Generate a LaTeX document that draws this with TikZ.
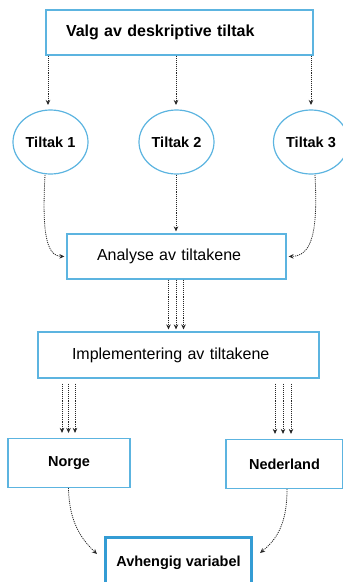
\documentclass[tikz,border=0pt]{standalone}
\usepackage{fontspec}
\setmainfont{Liberation Sans}
\usetikzlibrary{arrows.meta,shapes.geometric}

\definecolor{boxblue}{RGB}{92,180,224}
\definecolor{boxbluedark}{RGB}{52,156,212}

\tikzset{
  box/.style={draw=boxblue, line width=1.2pt, rectangle, inner ysep=0pt,
              minimum height=#1},
  box/.default=45pt,
  oval/.style={draw=boxblue, line width=1.2pt, ellipse, inner sep=0pt,
               minimum width=75pt, minimum height=64pt,
               font=\fontsize{14.5}{17}\selectfont\bfseries},
  boldlabel/.style={font=\fontsize{14.5}{17}\selectfont\bfseries},
  plainlabel/.style={font=\fontsize{16}{19}\selectfont},
  flow/.style={draw=black!85, line width=0.8pt, dash pattern=on 1.1pt off 1pt,
               -{Stealth[length=5pt,width=4.5pt]}},
}

\begin{document}
\begin{tikzpicture}[x=1pt, y=-1pt]
  \useasboundingbox (0,0) rectangle (343,582);
  \clip (0,0) rectangle (343,582);

  % top: choice of measures
  \node[box, text width=227pt, inner xsep=20pt, align=left,
        font=\fontsize{16}{19}\selectfont\bfseries]
        (valg) at (179.5,32.5) {Valg av deskriptive tiltak};

  % the three measures
  \node[oval] (t1) at (50.5,142) {Tiltak 1};
  \node[oval] (t2) at (176.5,142) {Tiltak 2};
  \node[oval] (t3) at (311,142) {Tiltak 3};

  % analysis and implementation
  \node[box, plainlabel, text width=159pt, inner xsep=30pt, align=left]
        (analyse) at (176.5,256.5) {Analyse av tiltakene};
  \node[box=46pt, plainlabel, text width=213pt, inner xsep=34pt, align=left]
        (impl) at (178.5,355) {Implementering av tiltakene};

  % countries
  \node[box=49pt, boldlabel, minimum width=122pt] (norge) at (69,463) {Norge};
  \node[box=49pt, boldlabel, minimum width=117pt] (ned) at (284.5,464) {Nederland};

  % outcome
  \node[draw=boxbluedark, line width=3pt, rectangle, minimum width=146pt,
        minimum height=50pt, boldlabel] (avh) at (178.5,562.5) {Avhengig variabel};

  % top box to each measure
  \draw[flow, shorten >=5pt] (valg.south -| 48,0) -- (48,110);
  \draw[flow, shorten >=5pt] (valg.south -| 176,0) -- (176,110);
  \draw[flow, shorten >=5pt] (valg.south -| 311,0) -- (311,110);

  % measures into the analysis
  \draw[flow, shorten >=2pt] (t2.south -| 176,0) -- (analyse.north -| 176,0);
  \draw[flow, shorten >=2pt] (45,175) .. controls (42,232) and (46,256) .. (analyse.west);
  \draw[flow, shorten >=2pt] (315,175) .. controls (318,232) and (312,256) .. (analyse.east);

  % analysis to implementation
  \foreach \x in {168.5,176,183.5}
    \draw[flow, shorten >=2pt] (analyse.south -| \x,0) -- (impl.north -| \x,0);

  % implementation to each country
  \foreach \x in {62,68.5,75}
    \draw[flow, shorten >=5pt, shorten <=5pt] (impl.south -| \x,0) -- (norge.north -| \x,0);
  \foreach \x in {275,283,291}
    \draw[flow, shorten >=5pt, shorten <=5pt] (impl.south -| \x,0) -- (ned.north -| \x,0);

  % countries to the outcome
  \draw[flow] ([xshift=-0.5pt]norge.south) .. controls (69,520) and (80,538) .. (97,554);
  \draw[flow] ([xshift=2.5pt]ned.south) .. controls (287,525) and (276,540) .. (260,553);
\end{tikzpicture}
\end{document}
